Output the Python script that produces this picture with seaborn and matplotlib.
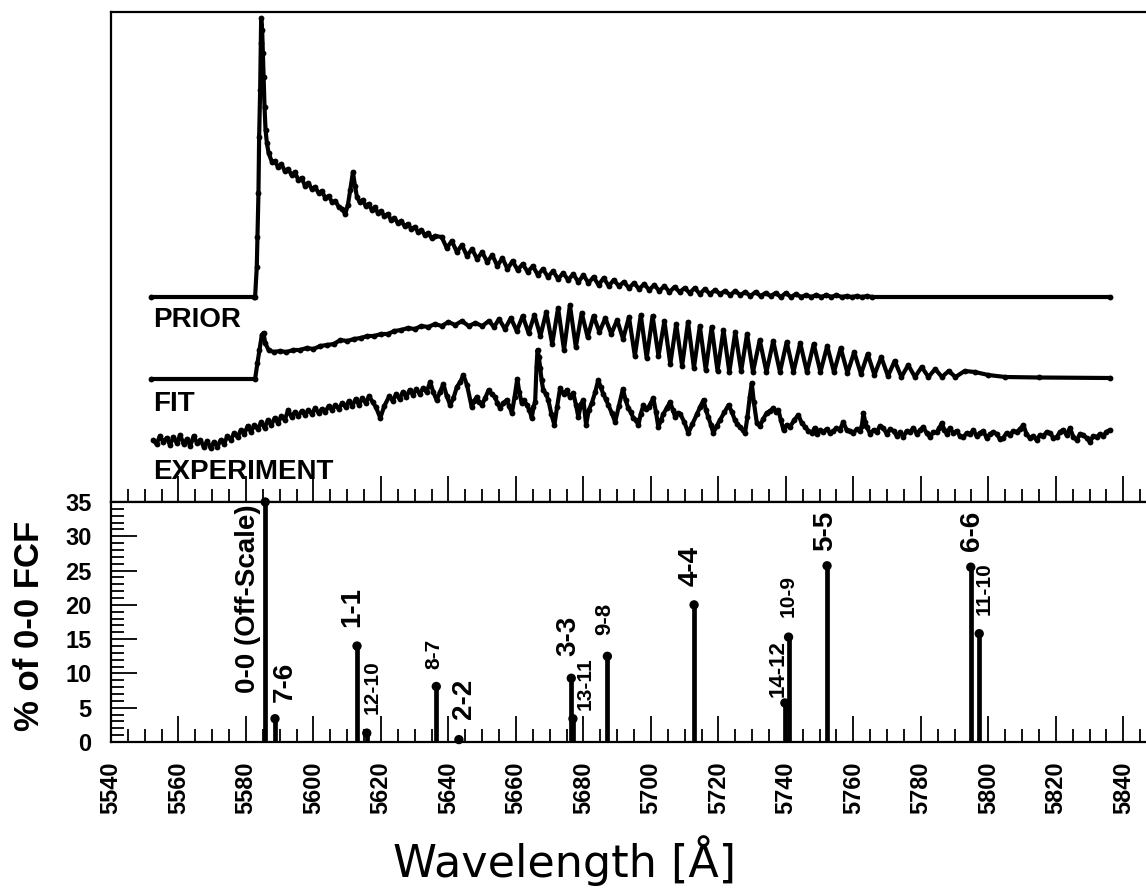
import numpy as np
import pandas as pd
import matplotlib
matplotlib.use("Agg")
import matplotlib.pyplot as plt
import seaborn as sns
from matplotlib.ticker import MultipleLocator

# ---------------- data ----------------
# Upper panel: stacked spectra, wavelength [A] vs. intensity (arbitrary units, offset)
prior_x = [5552.0, 5582.4, 5582.7, 5583.2, 5583.4, 5583.7, 5583.9, 5584.2, 5584.4, 5584.5,
           5584.8, 5585.0, 5585.2, 5585.5, 5585.8, 5586.2, 5586.7, 5587.7,
           5588.5, 5589.5, 5590.5, 5591.5, 5592.5, 5593.5, 5594.5, 5595.5, 5596.5, 5597.5,
           5598.5, 5599.5, 5600.5, 5601.5, 5602.5, 5603.5, 5604.5, 5605.5, 5606.5, 5607.5,
           5608.5, 5609.4, 5610.2, 5610.9, 5611.7, 5612.3, 5612.9, 5613.7, 5614.6, 5615.5,
           5616.4, 5617.3, 5618.2, 5619.1, 5620.0, 5621.0, 5622.0, 5623.0, 5624.0, 5625.0,
           5626.0, 5627.0, 5628.0, 5629.0, 5630.0, 5631.0, 5632.0, 5633.0, 5634.0, 5635.0,
           5636.0,
           5638.0, 5639.5, 5641.0, 5642.5, 5644.0, 5645.5, 5647.0, 5648.5, 5650.0, 5651.5,
           5653.0, 5654.5, 5656.0, 5657.5, 5659.0, 5660.5, 5662.0, 5663.5, 5665.0, 5666.5,
           5668.0, 5669.5, 5671.0, 5672.5, 5674.0, 5675.5, 5677.0, 5678.5, 5680.0, 5681.5,
           5683.0, 5684.5, 5686.0, 5687.5, 5689.0, 5690.5, 5692.0, 5693.5, 5695.0, 5696.5,
           5698.0, 5699.5, 5701.0, 5702.5, 5704.0, 5705.5, 5707.0, 5708.5, 5710.0, 5711.5,
           5713.0, 5714.5, 5716.0, 5717.5, 5719.0, 5720.5, 5722.0, 5723.5, 5725.0, 5726.5,
           5728.0, 5729.5, 5731.0, 5732.5, 5734.0, 5735.5, 5737.0, 5738.5, 5740.0, 5741.5,
           5743.0, 5744.5, 5746.0, 5747.5, 5749.0, 5750.5, 5752.0, 5753.5, 5755.0, 5756.5,
           5758.0, 5759.5, 5761.0, 5762.5, 5764.0, 5765.5,
           5836.0]
prior_y = [205, 205, 205, 235, 265, 309, 365, 412, 459, 484,
           472, 449, 425, 395, 372, 359, 349, 340,
           341, 335, 338, 331, 333, 327, 330, 322, 324, 316,
           319, 313, 315, 309, 311, 304, 306, 300, 301, 295,
           293, 288, 297, 312, 330, 316, 305, 300, 302, 296,
           298, 292, 295, 289, 291, 286, 288, 282, 284, 279,
           281, 276, 278, 273, 275, 270, 272, 267, 269, 264,
           266,
           265, 254, 261, 250, 257, 246, 253, 243, 250, 240,
           247, 236, 244, 233, 241, 232, 238, 230, 236, 227,
           233, 225, 231, 223, 229, 222, 228, 220, 227, 219,
           225, 217, 224, 216, 222, 216, 220, 214, 219, 213,
           218, 212, 217, 211, 216, 210, 215, 210, 214, 209,
           214, 208, 213, 208, 212, 208, 211, 207, 211, 207,
           210, 206, 210, 206, 209, 206, 209, 205, 209, 205,
           208, 205, 207, 205, 207, 205, 207, 205, 207, 205,
           206, 205, 206, 205, 206, 205,
           205]

fit_x = [5552.0, 5582.7, 5583.4, 5584.0, 5584.7, 5585.2, 5585.7, 5586.7, 5588.2,
         5590, 5592, 5594, 5596, 5598, 5600, 5602, 5604, 5606, 5608,
         5610, 5612, 5614, 5616, 5618, 5620, 5622, 5624, 5626, 5628,
         5630, 5632, 5634, 5636, 5638, 5640, 5642, 5644, 5646, 5648,
         5650, 5652, 5653.5,
         5655.00, 5656.75, 5658.50, 5660.25, 5662.00, 5663.75, 5665.50, 5667.25, 5669.00, 5670.75,
         5672.50, 5674.25, 5676.00, 5677.75, 5679.50, 5681.25, 5683.00, 5684.75, 5686.50, 5688.25,
         5690.00, 5691.75, 5693.50, 5695.25, 5697.00, 5698.75, 5700.50, 5702.25, 5704.00, 5705.75,
         5707.50, 5709.25, 5711.00, 5712.75, 5714.50, 5716.25, 5718.00, 5719.75, 5721.50, 5723.25,
         5725.00, 5726.75, 5728.50, 5730.25,
         5732.25, 5734.25, 5736.25, 5738.25, 5740.25, 5742.25, 5744.25, 5746.25, 5748.25, 5750.25,
         5752.25, 5754.25, 5756.25, 5758.25, 5760.25, 5762.25, 5764.25, 5766.25, 5768.25, 5770.25,
         5772.25, 5774.25, 5776.25, 5778.25, 5780.25, 5782.25, 5784.25, 5786.25, 5788.25, 5790.25,
         5793.0, 5796.0, 5800.0, 5805.0, 5815.0, 5836.0]
fit_y = [123, 123, 139, 152, 167, 169, 159, 152, 150,
         151, 150, 152, 152, 154, 153, 156, 157, 158, 162,
         161, 163, 164, 166, 166, 168, 168, 171, 172, 174,
         173, 176, 175, 178, 176, 180, 177, 181, 176, 179,
         176, 181, 175,
         183, 173, 184, 171, 186, 169, 187, 166, 190, 158,
         194, 152, 197, 155, 189, 165, 186, 170, 184, 168,
         182, 163, 185, 146, 187, 144, 186, 146, 181, 138,
         178, 136, 180, 134, 176, 132, 175, 131, 172, 130,
         170, 131, 168, 130,
         162, 130, 161, 130, 160, 130, 159, 130, 158, 130,
         156, 130, 154, 129, 150, 128, 148, 127, 145, 126,
         141, 125, 137, 125, 135, 125, 133, 125, 131, 125,
         131, 130, 127, 125, 124.5, 124]

exp_x = [5552.5, 5553.5, 5554.5, 5555.5, 5556.5, 5557.5, 5558.5, 5559.5, 5560.5, 5561.5,
         5562.5, 5563.5, 5564.5, 5565.5, 5566.5, 5567.5, 5568.5, 5569.5, 5570.5, 5571.5,
         5572.5, 5573.5, 5574.5, 5575.5, 5576.5, 5577.5, 5578.5, 5579.5, 5580.5, 5581.5,
         5582.5, 5583.5, 5584.5, 5585.5, 5586.5, 5587.5, 5588.5, 5589.5, 5590.5, 5591.5,
         5592.5, 5593.5, 5594.5, 5595.5, 5596.5, 5597.5, 5598.5, 5599.5, 5600.5, 5601.5,
         5602.5, 5603.5, 5604.5, 5605.5, 5606.5, 5607.5, 5608.5, 5609.5, 5610.5, 5611.5,
         5612.5, 5613.5, 5614.5, 5615.5, 5616.5, 5617.5,
         5618.5, 5619.8, 5621.0, 5622.5, 5623.5, 5624.5, 5625.5, 5626.5, 5627.5, 5628.5,
         5629.5, 5630.5, 5631.5, 5632.5, 5633.5, 5634.6, 5635.5, 5636.5, 5637.5, 5638.5,
         5639.5,
         5640.5, 5641.5, 5642.5, 5643.5, 5644.4, 5645.5, 5646.9, 5647.6, 5648.4, 5649.1,
         5649.9, 5650.9, 5651.9, 5652.8, 5653.8, 5654.5, 5655.3, 5656.3, 5657.3, 5658.0,
         5658.8, 5659.6, 5660.4, 5661.0, 5661.7, 5662.4, 5663.2, 5664.0, 5664.7, 5665.2,
         5665.7, 5666.1, 5666.4, 5666.8, 5667.2, 5667.6, 5668.1, 5668.9, 5669.6, 5670.5,
         5671.4, 5672.2, 5673.1, 5674.1, 5675.1, 5676.0, 5677.0, 5677.8, 5678.5, 5679.3,
         5680.0, 5680.8, 5681.6, 5682.5, 5683.5, 5684.4, 5685.1, 5685.9, 5686.6, 5687.4,
         5688.4, 5689.4, 5690.5, 5691.7, 5692.5, 5693.3, 5694.0, 5694.8, 5695.5, 5696.3,
         5697.0, 5697.8, 5698.5, 5699.3, 5700.0, 5700.7, 5701.5, 5702.2, 5703.0, 5703.7,
         5704.7, 5705.7, 5706.5, 5707.2, 5708.0, 5708.7, 5709.9, 5711.1, 5712.3, 5713.6,
         5714.6, 5715.6, 5716.3, 5717.0, 5717.8, 5718.5, 5719.5, 5720.5, 5721.8, 5723.0,
         5724.0, 5724.9, 5725.6, 5726.4, 5727.2, 5727.9, 5728.6, 5729.3, 5729.9, 5730.5,
         5731.4, 5732.3, 5733.3, 5734.3, 5735.3, 5736.3, 5737.0, 5737.8, 5738.5, 5739.3,
         5740.2, 5741.2, 5742.5, 5743.7, 5744.7, 5745.7, 5746.7, 5747.7, 5748.5, 5749.3,
         5750.2, 5751.1, 5752.1, 5753.1, 5754.1, 5755.0, 5756.0, 5757.0, 5758.0, 5759.0,
         5760.0, 5761.0, 5762.0, 5762.5, 5763.0, 5763.5, 5764.0, 5765.0, 5766.0, 5766.9,
         5767.9, 5768.9, 5769.9, 5770.9, 5771.9, 5772.9, 5773.9, 5774.8, 5775.8, 5776.8,
         5777.8, 5778.8, 5779.8, 5780.7, 5781.7, 5782.7, 5783.7, 5784.7, 5785.5, 5786.2,
         5787.0, 5787.7, 5788.6, 5789.6, 5790.6, 5791.6, 5792.6, 5793.6, 5794.6, 5795.6,
         5796.5, 5797.5, 5798.5, 5799.5, 5800.5, 5801.5, 5802.5, 5803.4, 5804.4, 5805.4,
         5806.4, 5807.4, 5808.4, 5809.4, 5810.4, 5811.3, 5812.3, 5813.3, 5814.3, 5815.3,
         5816.3, 5817.3, 5818.3, 5819.3, 5820.3, 5821.2, 5822.2, 5823.2, 5824.2, 5825.2,
         5826.2, 5827.2, 5828.1, 5829.1, 5830.1, 5831.1, 5832.1, 5833.1, 5834.1, 5835.0,
         5836.0]
exp_y = [62, 58, 66, 60, 64, 57, 65, 59, 67, 58,
         63, 56, 66, 59, 62, 55, 61, 54, 60, 55,
         62, 58, 66, 62, 69, 65, 72, 68, 76, 70,
         77, 73, 80, 74, 82, 77, 84, 79, 86, 82,
         92, 85, 90, 86, 91, 87, 92, 88, 94, 89,
         93, 90, 96, 92, 97, 93, 99, 95, 101, 96,
         103, 97, 104, 99, 106, 100,
         95, 84, 96, 106, 101, 108, 103, 110, 105, 112,
         107, 113, 108, 114, 110, 120, 110, 102, 110, 118,
         106,
         97, 104, 115, 120, 127, 117, 95, 101, 105, 100,
         97, 104, 112, 108, 105, 99, 94, 99, 102, 96,
         89, 105, 123, 110, 99, 102, 97, 92, 84, 95,
         100, 135, 152, 145, 134, 122, 112, 108, 102, 88,
         77, 95, 114, 108, 112, 105, 109, 97, 85, 98,
         102, 77, 92, 99, 110, 122, 115, 108, 103, 97,
         89, 80, 96, 113, 102, 94, 90, 84, 82, 77,
         88, 97, 93, 95, 99, 104, 90, 75, 82, 88,
         94, 100, 92, 85, 89, 88, 80, 69, 78, 88,
         95, 102, 92, 85, 77, 69, 76, 82, 90, 97,
         90, 82, 78, 75, 72, 69, 85, 105, 119, 100,
         79, 76, 83, 89, 91, 94, 90, 92, 82, 72,
         77, 75, 82, 87, 79, 75, 71, 69, 74, 68,
         72, 70, 73, 69, 71, 74, 72, 80, 72, 71,
         69, 73, 71, 76, 89, 80, 75, 68, 72, 70,
         76, 74, 68, 73, 71, 66, 70, 65, 71, 70,
         74, 68, 72, 75, 69, 65, 70, 70, 74, 79,
         72, 68, 74, 69, 71, 66, 65, 69, 68, 72,
         66, 69, 71, 64, 68, 70, 68, 63, 64, 69,
         67, 71, 70, 73, 77, 68, 64, 66, 62, 67,
         66, 70, 69, 64, 65, 70, 72, 67, 74, 65,
         62, 68, 67, 64, 60, 66, 65, 68, 66, 70,
         72]

# Lower panel: Franck-Condon factors (% of 0-0)
band_labels = ["0-0 (Off-Scale)", "7-6", "1-1", "12-10", "8-7", "2-2", "3-3", "13-11",
               "9-8", "4-4", "14-12", "10-9", "5-5", "6-6", "11-10"]
band_wavelength = [5585.7, 5588.6, 5612.9, 5615.8, 5636.4, 5643.1, 5676.4, 5676.9,
                   5687.1, 5712.8, 5739.7, 5740.8, 5752.2, 5794.8, 5797.3]
band_fcf = [35.0, 3.4, 14.0, 1.3, 8.1, 0.35, 9.3, 3.4, 12.5, 20.0, 5.7, 15.3, 25.7, 25.5, 15.8]

curve_names = ["PRIOR", "FIT", "EXPERIMENT"]
x_ticks = [5540, 5560, 5580, 5600, 5620, 5640, 5660, 5680, 5700, 5720, 5740, 5760,
           5780, 5800, 5820, 5840]

# ---------------- styling / layout ----------------
sns.set_style("ticks")
plt.rcParams['font.family'] = ['Liberation Sans', 'DejaVu Sans']
plt.rcParams.update({
    'axes.linewidth': 1.6, 'axes.edgecolor': 'black', 'text.color': 'black',
    'axes.labelcolor': 'black', 'xtick.color': 'black', 'ytick.color': 'black',
})

W, H = 1146, 888
fig = plt.figure(figsize=(W / 100, H / 100), dpi=100)
fig.patch.set_facecolor("white")

left = 111 / W
xmax = 5540 + (W - 110.8) / 3.375
ax_top = fig.add_axes([left, (H - 502) / H, 1 - left, 490 / H])
ax_bot = fig.add_axes([left, (H - 742) / H, 1 - left, 240 / H])

# ---- upper panel ----
line_kw = dict(color="black", linewidth=3.0, marker="o", markersize=4.2,
               markeredgewidth=0, sort=False, estimator=None, legend=False)
sns.lineplot(x=prior_x, y=prior_y, ax=ax_top, **line_kw)
sns.lineplot(x=fit_x, y=fit_y, ax=ax_top, **line_kw)
sns.lineplot(x=exp_x, y=exp_y, ax=ax_top, **line_kw)

ax_top.set_xlim(5540, xmax)
ax_top.set_ylim(0, 490)
ax_top.set_yticks([])
ax_top.xaxis.set_major_locator(MultipleLocator(20))
ax_top.xaxis.set_minor_locator(MultipleLocator(5))
ax_top.tick_params(axis="x", which="major", direction="in", length=19, width=1.3,
                   bottom=True, top=False, labelbottom=False)
ax_top.tick_params(axis="x", which="minor", direction="in", length=9.5, width=1.3,
                   bottom=True, top=False)
ax_top.spines["right"].set_visible(False)
ax_top.set_xlabel("")
ax_top.set_ylabel("")

name_pos = [(5552.6, 175), (5552.6, 91), (5552.6, 23)]
for name, (tx, ty) in zip(curve_names, name_pos):
    ax_top.text(tx, ty, name, fontsize=20, fontweight="bold", ha="left", va="baseline")

# ---- lower panel ----
ax_bot.vlines(band_wavelength, 0, band_fcf, color="black", linewidth=3.4)
sns.scatterplot(x=band_wavelength, y=band_fcf, ax=ax_bot, color="black", s=45,
                edgecolor="none", clip_on=False, zorder=5, legend=False)

ax_bot.set_xlim(5540, xmax)
ax_bot.set_ylim(0, 35)
ax_bot.set_xticks(x_ticks)
ax_bot.set_xticklabels([str(t) for t in x_ticks])
ax_bot.xaxis.set_minor_locator(MultipleLocator(5))
ax_bot.yaxis.set_major_locator(MultipleLocator(5))
ax_bot.yaxis.set_minor_locator(MultipleLocator(1))
ax_bot.tick_params(axis="x", which="major", direction="in", length=19, width=1.3,
                   labelsize=17, pad=14, labelrotation=90, top=False)
ax_bot.tick_params(axis="x", which="minor", direction="in", length=9.5, width=1.3, top=False)
ax_bot.tick_params(axis="y", which="major", direction="in", length=18.5, width=1.3,
                   labelsize=17, pad=14, right=False)
ax_bot.tick_params(axis="y", which="minor", direction="in", length=9.4, width=1.3, right=False)
for lab in ax_bot.get_xticklabels() + ax_bot.get_yticklabels():
    lab.set_fontweight("bold")
ax_bot.spines["right"].set_visible(False)
ax_bot.set_xlabel("")
ax_bot.set_ylabel("")

# band labels: (x centre, bottom, fontsize)
label_layout = [(5580.7, 7.1, 20), (5591.6, 5.8, 20), (5611.6, 16.8, 20), (5617.3, 4.1, 15),
                (5635.6, 10.7, 15), (5644.5, 3.3, 20), (5675.6, 12.6, 20), (5680.4, 4.6, 15),
                (5686.4, 15.6, 16), (5711.8, 22.8, 20), (5737.8, 6.6, 16), (5740.7, 18.2, 15),
                (5751.6, 27.9, 20), (5795.1, 27.9, 20), (5798.8, 18.5, 15)]
for txt, (lx, ly, fs) in zip(band_labels, label_layout):
    ax_bot.text(lx, ly, txt, rotation=90, ha="center", va="bottom", fontsize=fs,
                fontweight="bold")

fig.text(30 / W, (H - 626) / H, "% of 0-0 FCF", rotation=90, ha="center", va="center",
         fontsize=25, fontweight="bold")
fig.text(565 / W, (H - 861) / H, "Wavelength [Å]", ha="center", va="center",
         fontsize=32, family=["DejaVu Sans"])

fig.savefig("out.png", dpi=100, facecolor="white")
